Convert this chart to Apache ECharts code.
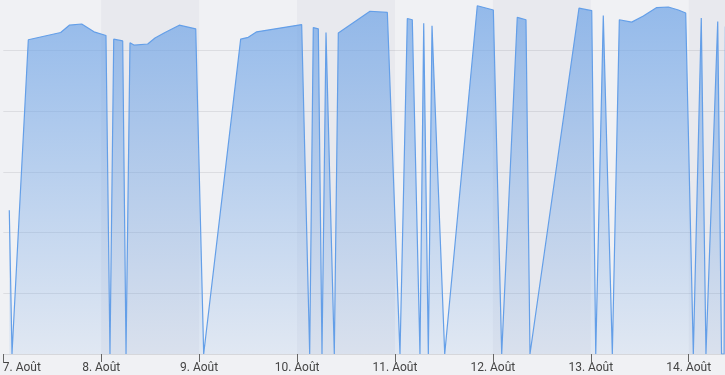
<!DOCTYPE html>
<html>
<head>
<meta charset="utf-8">
<script src="https://cdn.jsdelivr.net/npm/echarts@6/dist/echarts.min.js"></script>
<style>
html,body{margin:0;padding:0;background:#f0f1f4;}
#chart{width:725px;height:375px;}
</style>
</head>
<body>
<div id="chart"></div>
<script>
const times = [
  '2021-08-07 01:28','2021-08-07 02:08','2021-08-07 06:08','2021-08-07 14:04','2021-08-07 16:11',
  '2021-08-07 19:13','2021-08-07 22:14','2021-08-08 01:10','2021-08-08 02:09','2021-08-08 03:04',
  '2021-08-08 05:16','2021-08-08 06:05','2021-08-08 07:03','2021-08-08 08:07','2021-08-08 11:24',
  '2021-08-08 13:11','2021-08-08 15:38','2021-08-08 19:08','2021-08-08 23:10','2021-08-09 01:07',
  '2021-08-09 10:11','2021-08-09 12:03','2021-08-09 14:07','2021-08-10 01:08','2021-08-10 03:06',
  '2021-08-10 03:59','2021-08-10 05:13','2021-08-10 06:07','2021-08-10 07:06','2021-08-10 09:08',
  '2021-08-10 10:07','2021-08-10 17:53','2021-08-10 22:08','2021-08-11 01:14','2021-08-11 03:02',
  '2021-08-11 04:15','2021-08-11 06:08','2021-08-11 07:03','2021-08-11 08:11','2021-08-11 09:05',
  '2021-08-11 12:12','2021-08-11 20:11','2021-08-12 00:07','2021-08-12 02:10','2021-08-12 05:59',
  '2021-08-12 08:07','2021-08-12 09:06','2021-08-12 21:07','2021-08-13 00:14','2021-08-13 01:13',
  '2021-08-13 03:04','2021-08-13 05:17','2021-08-13 07:00','2021-08-13 10:02','2021-08-13 12:53',
  '2021-08-13 16:10','2021-08-13 19:00','2021-08-13 21:28','2021-08-13 23:16','2021-08-14 01:08',
  '2021-08-14 03:05','2021-08-14 04:14','2021-08-14 07:07','2021-08-14 08:03','2021-08-14 08:41',
  '2021-08-14 09:00'
];
const values = [
  2.37,0,5.18,5.30,5.42,
  5.44,5.31,5.25,0,5.19,
  5.16,0,5.13,5.09,5.11,
  5.21,5.30,5.42,5.36,0,
  5.19,5.22,5.31,5.43,0,
  5.38,5.36,0,5.30,0,
  5.29,5.65,5.63,0,5.53,
  5.51,0,5.45,0,5.41,
  0,5.74,5.67,0,5.55,
  5.51,0,5.70,5.66,0,
  5.58,0,5.51,5.47,5.57,
  5.71,5.72,5.67,5.62,0,
  5.54,0,5.48,0,0,
  5.40
];
const tickDays = ['2021-08-07','2021-08-08','2021-08-09','2021-08-10','2021-08-11','2021-08-12','2021-08-13','2021-08-14'];
const tickLabels = ['7. Août','8. Août','9. Août','10. Août','11. Août','12. Août','13. Août','14. Août'];
const xStart = '2021-08-07 00:00';
const xEnd = '2021-08-14 08:54';

function dayKey(d){
  const m = String(d.getMonth()+1).padStart(2,'0');
  const dd = String(d.getDate()).padStart(2,'0');
  return d.getFullYear()+'-'+m+'-'+dd;
}

// alternate day bands: every second day (8-9, 10-11, 12-13, 14-end)
const bands = [];
for (let i = 1; i < tickDays.length; i += 2) {
  const end = (i + 1 < tickDays.length) ? tickDays[i + 1] + ' 00:00' : xEnd;
  bands.push([{xAxis: tickDays[i] + ' 00:00'}, {xAxis: end}]);
}

const chart = echarts.init(document.getElementById('chart'), null, {renderer:'canvas'});
const DAY = 86400000;
chart.setOption({
  backgroundColor: '#f0f1f4',
  animation: false,
  grid: {left: 3.3, right: 0, top: -10, bottom: 21, containLabel: false, outerBoundsMode: 'none'},
  xAxis: {
    type: 'time',
    min: xStart,
    max: xEnd,
    minInterval: DAY,
    maxInterval: DAY,
    axisLine: {show: true, lineStyle: {color: '#d6d7db', width: 1}},
    axisTick: {show: true, length: 8, lineStyle: {color: '#666', width: 1}},
    axisLabel: {
      show: true,
      color: '#444',
      fontSize: 12,
      fontFamily: 'Roboto',
      margin: 8,
      showMaxLabel: false,
      formatter: function (val) {
        const i = tickDays.indexOf(dayKey(new Date(val)));
        if (i < 0) return '';
        return i === 0 ? '{first|' + tickLabels[i] + '}' : tickLabels[i];
      },
      rich: {
        first: {color: '#444', fontSize: 12, fontFamily: 'Roboto', padding: [0, 0, 0, 37]}
      }
    },
    splitLine: {show: false},
    splitArea: {show: false}
  },
  yAxis: {
    type: 'value',
    min: 0,
    max: 6,
    interval: 1,
    z: 0,
    axisLine: {show: false},
    axisTick: {show: false},
    axisLabel: {show: false},
    splitLine: {show: true, lineStyle: {color: '#dcdde1', width: 1}}
  },
  series: [{
    type: 'line',
    z: 1,
    data: [],
    symbol: 'none',
    markArea: {
      silent: true,
      itemStyle: {color: 'rgba(30,40,80,0.035)'},
      data: bands
    }
  }, {
    type: 'line',
    z: 3,
    data: times.map((t, i) => [t, values[i]]),
    symbol: 'none',
    lineStyle: {color: '#649fe8', width: 1.2},
    areaStyle: {
      color: new echarts.graphic.LinearGradient(0, 0, 0, 1, [
        {offset: 0, color: 'rgba(108,162,230,1)'},
        {offset: 1, color: 'rgba(108,162,230,0.17)'}
      ])
    }
  }]
});
</script>
</body>
</html>
